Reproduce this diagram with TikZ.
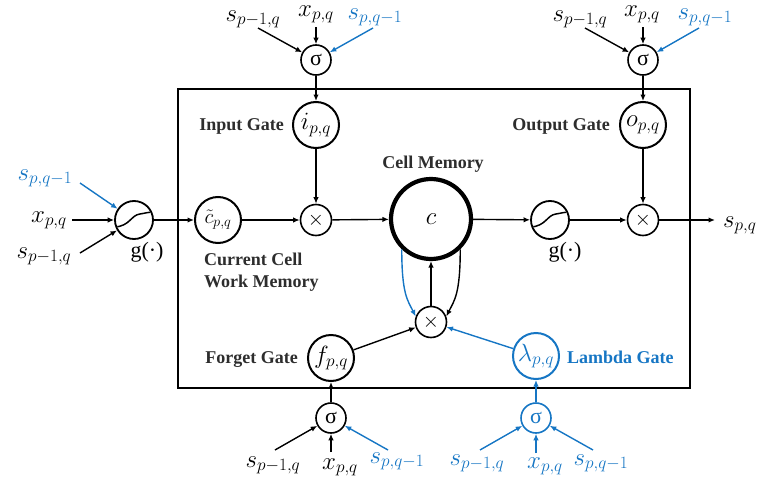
\documentclass[tikz,border=0pt]{standalone}
\usepackage{fontspec}
\setmainfont{Liberation Serif}
\usetikzlibrary{arrows.meta}
\definecolor{lb}{RGB}{22,118,196}
\definecolor{dk}{RGB}{45,45,45}
\begin{document}
\begin{tikzpicture}[x=1pt,y=-1pt,
  arr/.style={-{Latex[length=6.5pt,width=5.5pt]}, line width=1.4pt},
  sig/.style={circle, draw, line width=1.6pt, minimum size=30pt, inner sep=0pt, font=\fontsize{22}{22}\selectfont},
  gate/.style={circle, draw, line width=2pt, minimum size=46pt, inner sep=0pt, font=\fontsize{24}{24}\selectfont},
  mul/.style={circle, draw, line width=1.6pt, minimum size=31pt, inner sep=0pt, font=\fontsize{20}{20}\selectfont},
  act/.style={circle, draw, line width=1.8pt, minimum size=38pt, inner sep=0pt},
  cell/.style={circle, draw, line width=4.2pt, minimum size=80pt, inner sep=0pt, font=\fontsize{46}{46}\selectfont},
  lbl/.style={font=\fontsize{26}{28}\selectfont, inner sep=0pt, anchor=base},
  gl/.style={font=\fontsize{18}{22}\selectfont\bfseries, text=dk, inner sep=0pt},
  gfun/.style={font=\fontsize{22}{26}\selectfont, inner sep=0pt, anchor=base},
  sigm/.style={line width=1.5pt},
]
\useasboundingbox (0,0) rectangle (761,490);
% frame
\draw[line width=1.6pt] (178,89) rectangle (690,388);

% main nodes
\node[sig] (sT1) at (316,60) {σ};
\node[gate] (iG) at (316,125) {$i_{p,q}$};
\node[sig] (sT2) at (643,60) {σ};
\node[gate] (oG) at (643,125) {$o_{p,q}$};
\node[act] (g1) at (134,220) {};
\node[gate, font=\fontsize{21}{21}\selectfont] (ct) at (218,220) {$\tilde{c}_{p,q}$};
\node[mul] (m1) at (316,220) {$\times$};
\node[cell] (C) at (431,219) {$c$};
\node[act] (g2) at (550,220) {};
\node[mul] (m2) at (643,220) {$\times$};
\node[mul] (m3) at (431,322) {$\times$};
\node[gate] (fG) at (331,358) {$f_{p,q}$};
\node[sig] (sB1) at (331,418) {σ};
\node[gate, draw=lb, text=lb] (lG) at (536,356) {$\lambda_{p,q}$};
\node[sig, draw=lb, text=lb] (sB2) at (536,418) {σ};

% sigmoid glyphs
\begin{scope}[shift={(g1.center)}]
  \clip (0,0) circle [radius=18];
  \draw[sigm] (-19,7) .. controls (-4,6) and (-3,-5) .. (6,-6) .. controls (12,-7) and (15,-8) .. (19,-8);
\end{scope}
\begin{scope}[shift={(g2.center)}]
  \clip (0,0) circle [radius=18];
  \draw[sigm] (-19,7) .. controls (-4,6) and (-3,-5) .. (6,-6) .. controls (12,-7) and (15,-8) .. (19,-8);
\end{scope}

% labels
\node[gl, anchor=base east] (tIn) at (284,130) {Input Gate};
\node[gl, anchor=base east] (tOut) at (610,130) {Output Gate};
\node[gl, anchor=base] (tCell) at (433,168) {Cell Memory};
\node[gl, anchor=north west, align=left] (tCur) at (204,253) {Current Cell\\Work Memory};
\node[gl, anchor=base east] (tFor) at (298,363) {Forget Gate};
\node[gl, anchor=base west, text=lb] (tLam) at (567,363) {Lambda Gate};
\node[gfun] (tg1) at (147,257) {g(·)};
\node[gfun] (tg2) at (565,257) {g(·)};

% input labels top-left
\node[lbl] (s1a) at (253,21) {$s_{p-1,q}$};
\node[lbl] (x1a) at (316,16) {$x_{p,q}$};
\node[lbl, text=lb] (s1b) at (375,19) {$s_{p,q-1}$};
% top-right
\node[lbl] (s2a) at (580,21) {$s_{p-1,q}$};
\node[lbl] (x2a) at (642,16) {$x_{p,q}$};
\node[lbl, text=lb] (s2b) at (705,19) {$s_{p,q-1}$};
% left
\node[lbl, text=lb] (s0b) at (45,180) {$s_{p,q-1}$};
\node[lbl] (x0) at (49,222) {$x_{p,q}$};
\node[lbl] (s0a) at (44,258) {$s_{p-1,q}$};
% bottom-left
\node[lbl] (s3a) at (273,467) {$s_{p-1,q}$};
\node[lbl] (x3a) at (340,469) {$x_{p,q}$};
\node[lbl, text=lb] (s3b) at (397,463) {$s_{p,q-1}$};
% bottom-right
\node[lbl, text=lb] (s4a) at (477,465) {$s_{p-1,q}$};
\node[lbl, text=lb] (x4a) at (545,468) {$x_{p,q}$};
\node[lbl, text=lb] (s4b) at (601,465) {$s_{p,q-1}$};
% output
\node[lbl, anchor=base west] (sout) at (723,227) {$s_{p,q}$};
\coordinate (oend) at (715,220);

% input arrows
\draw[arr] ([shift={(5,7)}]s1a.base) -- (sT1);
\draw[arr] ([shift={(0,11)}]x1a.base) -- (sT1);
\draw[arr, lb] ([shift={(-2,9)}]s1b.base) -- (sT1);
\draw[arr] ([shift={(5,7)}]s2a.base) -- (sT2);
\draw[arr] ([shift={(1,11)}]x2a.base) -- (sT2);
\draw[arr, lb] ([shift={(-6,9)}]s2b.base) -- (sT2);
\draw[arr, lb] ([shift={(35,3)}]s0b.base) -- (g1);
\draw[arr] ([shift={(23,-2)}]x0.base) -- (g1);
\draw[arr] ([shift={(36,-5)}]s0a.base) -- (g1);
\draw[arr] ([shift={(2,-17)}]s3a.base) -- (sB1);
\draw[arr] ([shift={(-9,-17)}]x3a.base) -- (sB1);
\draw[arr, lb] ([shift={(-9,-13)}]s3b.base) -- (sB1);
\draw[arr, lb] ([shift={(3,-15)}]s4a.base) -- (sB2);
\draw[arr, lb] ([shift={(-9,-15)}]x4a.base) -- (sB2);
\draw[arr, lb] ([shift={(-8,-15)}]s4b.base) -- (sB2);

% internal connections
\draw[arr] (sT1) -- (iG);
\draw[arr] (sT2) -- (oG);
\draw[arr] (sB1) -- (fG);
\draw[arr, lb] (sB2) -- (lG);
\draw[arr] (g1) -- (ct);
\draw[arr] (ct) -- (m1);
\draw[arr] (iG) -- (m1);
\draw[arr] (m1) -- (C);
\draw[arr] (C) -- (g2);
\draw[arr] (g2) -- (m2);
\draw[arr] (oG) -- (m2);
\draw[arr] (m2) -- (oend);
\draw[arr] (m3) -- (C);
\draw[arr] (fG) -- (m3);
\draw[arr, lb] (lG) -- (m3);
\draw[arr, lb] (C.226) .. controls +(0,45) and +(-8,-16) .. (m3.160);
\draw[arr] (C.314) .. controls +(0,45) and +(8,-16) .. (m3.20);
\end{tikzpicture}
\end{document}
